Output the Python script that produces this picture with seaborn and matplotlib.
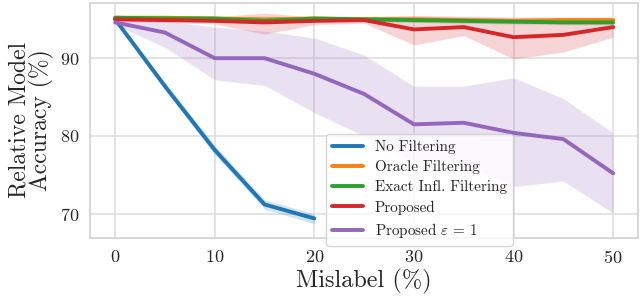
import matplotlib
matplotlib.use("Agg")
import matplotlib.pyplot as plt
import seaborn as sns
import pandas as pd

mislabel = [0, 5, 10, 15, 20, 25, 30, 35, 40, 45, 50]
mislabel_nofilt = [0, 5, 10, 15, 20]

no_filter = [95.0, 86.4, 78.2, 71.2, 69.4]
no_filter_lo = [94.7, 85.9, 77.6, 70.6, 68.7]
no_filter_hi = [95.3, 86.9, 78.8, 71.8, 70.0]

oracle = [95.2, 95.2, 95.1, 95.0, 95.1, 95.0, 95.0, 94.9, 94.8, 94.9, 94.9]
oracle_lo = [94.9, 94.9, 94.8, 94.7, 94.8, 94.7, 94.6, 94.5, 94.4, 94.5, 94.5]
oracle_hi = [95.5, 95.5, 95.4, 95.3, 95.4, 95.4, 95.4, 95.3, 95.2, 95.3, 95.3]

exact = [95.2, 95.1, 95.1, 94.8, 95.1, 95.0, 94.9, 94.8, 94.7, 94.6, 94.6]
exact_lo = [94.9, 94.8, 94.8, 94.5, 94.8, 94.7, 94.6, 94.5, 94.4, 94.3, 94.3]
exact_hi = [95.5, 95.4, 95.4, 95.1, 95.4, 95.3, 95.2, 95.1, 95.0, 94.9, 94.9]

proposed = [95.0, 94.9, 94.8, 94.6, 94.8, 94.9, 93.7, 94.0, 92.7, 93.0, 94.0]
proposed_lo = [94.7, 94.6, 94.4, 93.1, 94.3, 94.5, 91.7, 92.9, 89.9, 90.8, 92.7]
proposed_hi = [95.4, 95.3, 95.3, 95.8, 95.3, 95.3, 95.5, 95.4, 95.3, 95.2, 95.2]

prop_eps = [94.6, 93.3, 90.0, 90.0, 88.0, 85.4, 81.5, 81.7, 80.4, 79.6, 75.2]
prop_eps_lo = [94.3, 91.4, 87.2, 86.5, 83.0, 80.0, 76.7, 76.5, 73.5, 74.2, 70.1]
prop_eps_hi = [95.2, 94.8, 94.0, 93.5, 92.6, 90.4, 86.4, 86.4, 87.5, 84.8, 80.4]

labels = ["No Filtering", "Oracle Filtering", "Exact Infl. Filtering",
          "Proposed", r"Proposed $\varepsilon$ = 1"]

series = [
    (mislabel_nofilt, no_filter, no_filter_lo, no_filter_hi),
    (mislabel, oracle, oracle_lo, oracle_hi),
    (mislabel, exact, exact_lo, exact_hi),
    (mislabel, proposed, proposed_lo, proposed_hi),
    (mislabel, prop_eps, prop_eps_lo, prop_eps_hi),
]

rows = []
for lab, (xs, ys, lo, hi) in zip(labels, series):
    for x, y, l, h in zip(xs, ys, lo, hi):
        rows.append({"Mislabel": x, "Accuracy": y, "lo": l, "hi": h, "Method": lab})
df = pd.DataFrame(rows)

sns.set_theme(style="whitegrid")
plt.rcParams["font.family"] = ["cmr10", "DejaVu Serif"]
plt.rcParams["mathtext.fontset"] = "cm"
plt.rcParams["axes.formatter.use_mathtext"] = True
plt.rcParams["axes.unicode_minus"] = False

colors = sns.color_palette("tab10", 5)

fig, ax = plt.subplots(figsize=(6.4, 2.97), dpi=100)
fig.subplots_adjust(left=0.141, right=0.997, bottom=0.199, top=0.99)

# shaded bands first, lines on top
for lab, c in zip(labels, colors):
    d = df[df["Method"] == lab]
    ax.fill_between(d["Mislabel"], d["lo"], d["hi"], color=c, alpha=0.2,
                    edgecolor="white", linewidth=0.6)

sns.lineplot(data=df, x="Mislabel", y="Accuracy", hue="Method",
             hue_order=labels, palette=colors, linewidth=2.8, ax=ax,
             errorbar=None)

ax.set_xlim(-2.5, 52.5)
ax.set_ylim(66.9, 97.1)
ax.set_xticks([0, 10, 20, 30, 40, 50])
ax.set_yticks([70, 80, 90])
ax.tick_params(labelsize=13, pad=2)
ax.set_xlabel("Mislabel (%)", fontsize=17.5, labelpad=2)
ax.set_ylabel("Relative Model\nAccuracy (%)", fontsize=17, labelpad=4,
              linespacing=0.95)
for s in ax.spines.values():
    s.set_linewidth(1.3)
    s.set_color("#d5d5d5")
ax.grid(color="#dddddd", linewidth=1.1)

leg = ax.legend(loc="lower left", bbox_to_anchor=(0.431, -0.034), fontsize=10.9,
                handlelength=2.0, labelspacing=0.4, frameon=True,
                borderaxespad=0)
leg.get_frame().set_alpha(0.8)
leg.get_frame().set_edgecolor("#cccccc")
for line in leg.get_lines():
    line.set_linewidth(2.8)

fig.savefig("out.png", dpi=100)
